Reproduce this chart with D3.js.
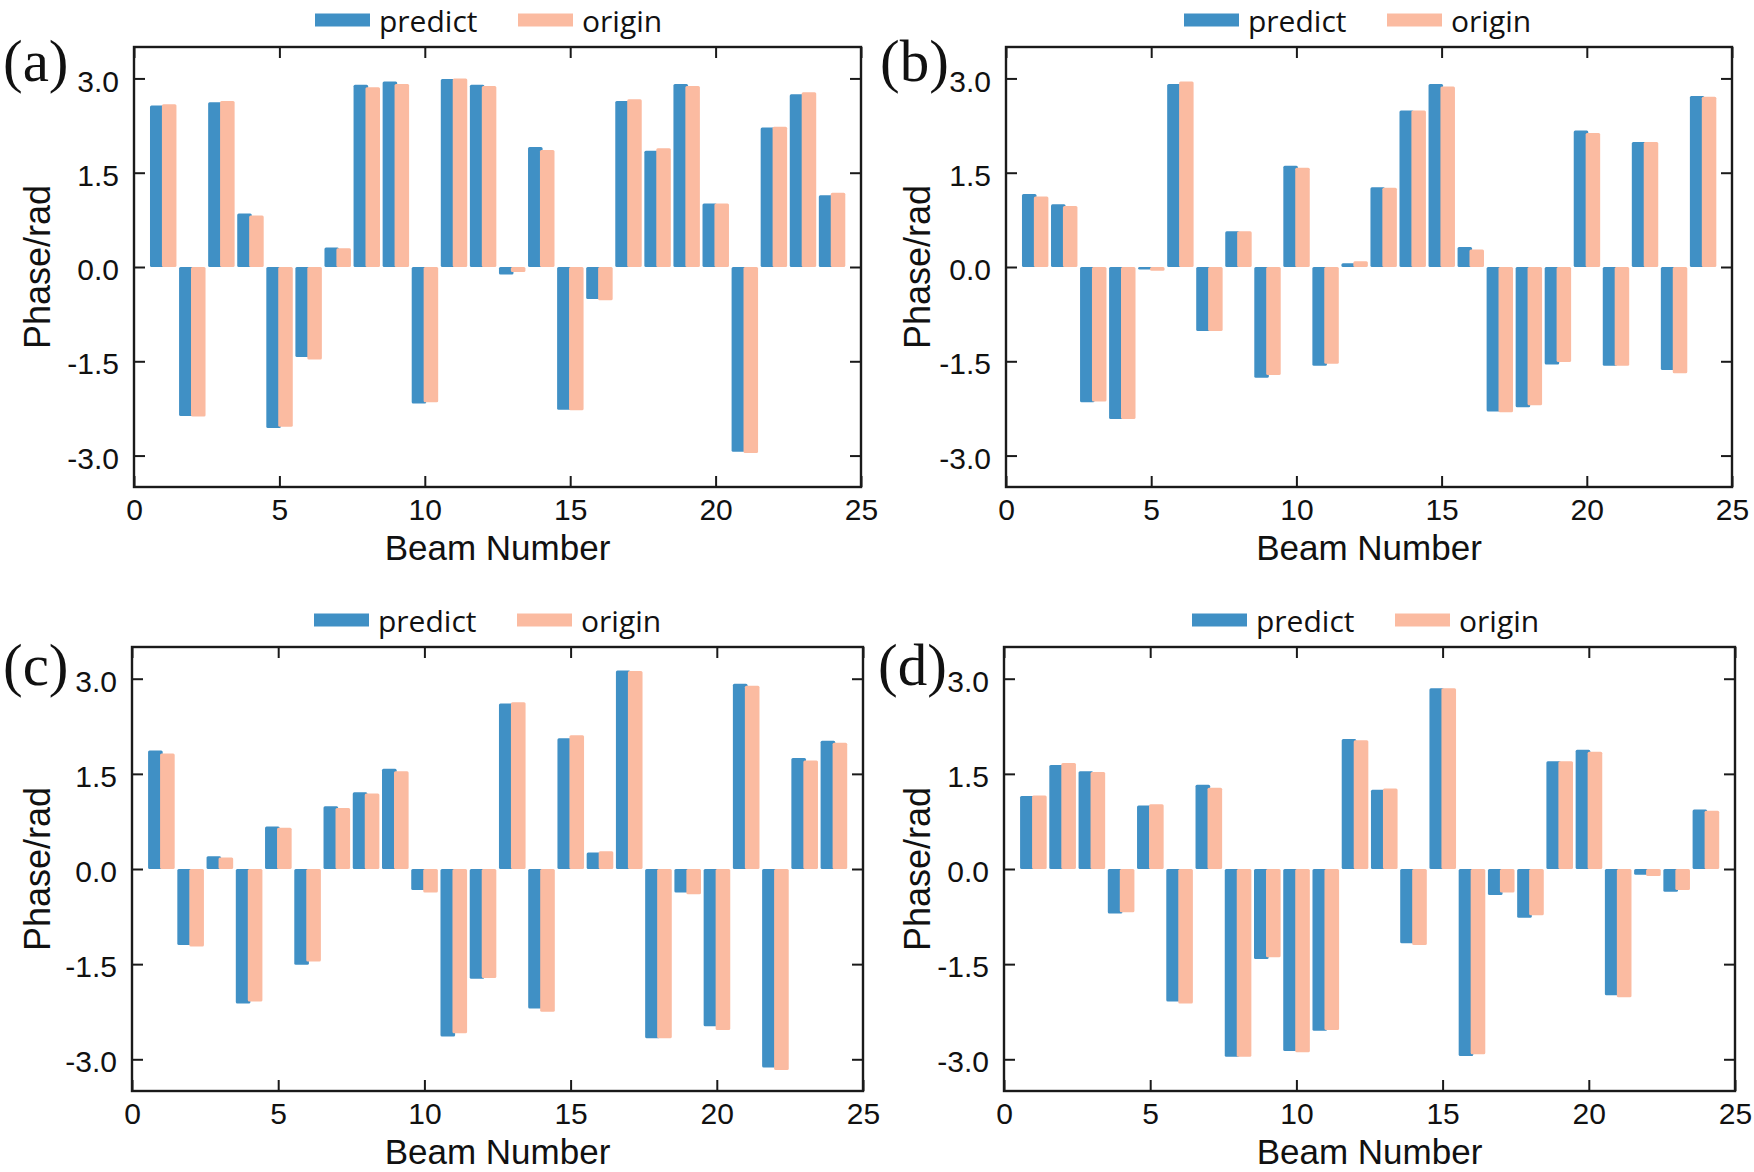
<!DOCTYPE html>
<html lang='en'>

<head>
   <meta charset='UTF-8'>
   <title>Beam phase - predict vs origin</title>
   <script src='https://d3js.org/d3.v7.min.js'></script>
   <style>
      body {
         margin: 0;
         background: #fff;
      }

      svg {
         display: block;
      }
   </style>
</head>

<body>
   <div id='chart'></div>
   <script>
      // values
      const beams = [1, 2, 3, 4, 5, 6, 7, 8, 9, 10, 11, 12, 13, 14, 15, 16, 17, 18, 19, 20, 21, 22, 23, 24];
      const xTicks = [0, 5, 10, 15, 20, 25];
      const yTicks = [-3, -1.5, 0, 1.5, 3];
      const seriesNames = ['predict', 'origin'];

      const predictA = [2.57, -2.37, 2.62, 0.85, -2.56, -1.43, 0.31, 2.90, 2.95, -2.17, 2.99, 2.90, -0.12, 1.91, -2.27, -0.51, 2.64, 1.85, 2.91, 1.01, -2.94, 2.22, 2.75, 1.14];
      const originA = [2.59, -2.38, 2.64, 0.82, -2.54, -1.47, 0.30, 2.86, 2.91, -2.15, 3.00, 2.88, -0.08, 1.86, -2.28, -0.53, 2.67, 1.89, 2.88, 1.01, -2.96, 2.23, 2.78, 1.18];

      const predictB = [1.16, 1.00, -2.15, -2.42, -0.04, 2.91, -1.02, 0.57, -1.76, 1.61, -1.57, 0.06, 1.27, 2.49, 2.91, 0.32, -2.30, -2.23, -1.55, 2.17, -1.57, 1.99, -1.64, 2.72];
      const originB = [1.12, 0.97, -2.14, -2.42, -0.06, 2.95, -1.02, 0.57, -1.72, 1.58, -1.54, 0.09, 1.26, 2.49, 2.87, 0.28, -2.31, -2.20, -1.51, 2.13, -1.57, 1.99, -1.69, 2.71];

      const predictC = [1.87, -1.20, 0.20, -2.12, 0.67, -1.51, 0.99, 1.21, 1.58, -0.33, -2.64, -1.73, 2.61, -2.20, 2.06, 0.26, 3.13, -2.67, -0.37, -2.48, 2.92, -3.13, 1.75, 2.02];
      const originC = [1.82, -1.22, 0.18, -2.09, 0.65, -1.46, 0.96, 1.19, 1.54, -0.37, -2.59, -1.72, 2.63, -2.25, 2.11, 0.28, 3.12, -2.67, -0.40, -2.54, 2.89, -3.17, 1.71, 1.99];

      const predictD = [1.15, 1.64, 1.54, -0.70, 1.00, -2.09, 1.33, -2.96, -1.42, -2.87, -2.55, 2.05, 1.25, -1.17, 2.85, -2.95, -0.41, -0.77, 1.70, 1.88, -1.99, -0.09, -0.36, 0.94];
      const originD = [1.16, 1.67, 1.53, -0.68, 1.02, -2.12, 1.28, -2.96, -1.39, -2.89, -2.54, 2.03, 1.27, -1.20, 2.85, -2.92, -0.37, -0.73, 1.70, 1.85, -2.02, -0.11, -0.33, 0.92];

      const colors = { predict: '#4090c5', origin: '#fbbba1' };

      // panel frames (px) and where their bits of text sit
      const panels = [
         { tag: '(a)', predict: predictA, origin: originA, left: 134, top: 47, right: 861, bottom: 487, tagX: 3, tagDy: 34, legendDx: 181, ylabDx: 84 },
         { tag: '(b)', predict: predictB, origin: originB, left: 1006, top: 47, right: 1732, bottom: 487, tagX: 880, tagDy: 34, legendDx: 178, ylabDx: 76 },
         { tag: '(c)', predict: predictC, origin: originC, left: 132, top: 647, right: 863, bottom: 1091, tagX: 3, tagDy: 38, legendDx: 182, ylabDx: 82 },
         { tag: '(d)', predict: predictD, origin: originD, left: 1004, top: 647, right: 1735, bottom: 1091, tagX: 878, tagDy: 38, legendDx: 188, ylabDx: 74 }
      ];

      const svg = d3.select('#chart').append('svg').attr('width', 1754).attr('height', 1172);

      const sansFont = "'Liberation Sans', Arial, sans-serif";
      const barWidth = 0.5;
      const offsets = { predict: -0.2, origin: 0.21 };

      panels.forEach(p => {
         const width = p.right - p.left;
         const height = p.bottom - p.top;

         const x = d3.scaleLinear().domain([0, 25]).range([0, width]);
         const y = d3.scaleLinear().domain([-3.5, 3.5]).range([height, 0]);

         const g = svg.append('g').attr('transform', `translate(${p.left}, ${p.top})`);

         // bars, predict first so origin overlaps it
         seriesNames.forEach(name => {
            const values = p[name];
            g.append('g').selectAll('rect').data(beams).join('rect')
               .attr('x', (d, i) => x(d + offsets[name] - barWidth / 2))
               .attr('width', x(barWidth) - x(0))
               .attr('y', (d, i) => y(Math.max(0, values[i])))
               .attr('height', (d, i) => Math.abs(y(values[i]) - y(0)))
               .attr('rx', 1.5)
               .attr('fill', colors[name]);
         });

         // ticks on all four sides, pointing inward
         const styleAxis = sel => {
            sel.select('.domain').remove();
            sel.selectAll('line').attr('stroke', '#1a1a1a').attr('stroke-width', 2);
            sel.attr('font-family', sansFont).attr('font-size', 30);
         };

         const leftAxis = g.append('g')
            .call(d3.axisLeft(y).tickValues(yTicks).tickSize(-11).tickPadding(15).tickFormat(d => d.toFixed(1)))
            .call(styleAxis);
         leftAxis.selectAll('text').attr('dy', '0.42em').attr('fill', '#111');

         g.append('g').attr('transform', `translate(${width}, 0)`)
            .call(d3.axisRight(y).tickValues(yTicks).tickSize(-11).tickFormat(''))
            .call(styleAxis);

         const bottomAxis = g.append('g').attr('transform', `translate(0, ${height})`)
            .call(d3.axisBottom(x).tickValues(xTicks).tickSize(-11).tickPadding(12))
            .call(styleAxis);
         bottomAxis.selectAll('text').attr('fill', '#111');

         g.append('g')
            .call(d3.axisTop(x).tickValues(xTicks).tickSize(-11).tickFormat(''))
            .call(styleAxis);

         g.append('rect')
            .attr('width', width).attr('height', height)
            .attr('fill', 'none').attr('stroke', '#1a1a1a').attr('stroke-width', 2.4);

         // axis titles
         g.append('text')
            .attr('x', width / 2).attr('y', height + 73)
            .attr('text-anchor', 'middle')
            .style('font-family', sansFont).style('font-size', '35px').attr('fill', '#111')
            .text('Beam Number');

         g.append('text')
            .attr('transform', `translate(${-p.ylabDx}, ${height / 2}) rotate(-90)`)
            .attr('text-anchor', 'middle')
            .style('font-family', sansFont).style('font-size', '36px').attr('fill', '#111')
            .text('Phase/rad');

         // panel tag
         svg.append('text')
            .attr('x', p.tagX).attr('y', p.top + p.tagDy)
            .style('font-family', "'Liberation Serif', 'Times New Roman', serif").style('font-size', '59px').attr('fill', '#111')
            .text(p.tag);

         // legend above the frame
         const legend = g.append('g').attr('transform', `translate(${p.legendDx}, -27)`);
         seriesNames.forEach((name, i) => {
            const item = legend.append('g').attr('transform', `translate(${i * 203}, 0)`);
            item.append('rect')
               .attr('x', 0).attr('y', -6.5).attr('width', 55).attr('height', 13)
               .attr('fill', colors[name]);
            item.append('text')
               .attr('x', 64).attr('y', 12)
               .style('font-family', "'Open Sans', 'Noto Sans', sans-serif").style('font-size', '30px').attr('fill', '#111')
               .text(name);
         });
      });
   </script>
</body>

</html>
